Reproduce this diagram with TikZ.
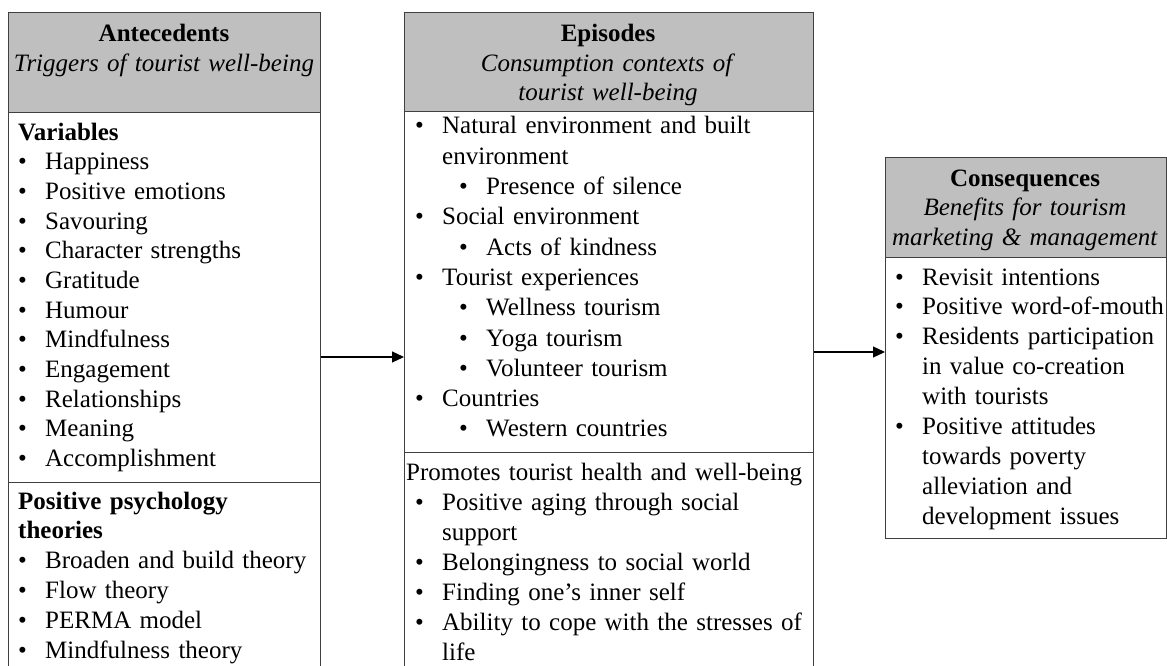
\documentclass[tikz,border=0pt]{standalone}
\usepackage{fontspec}
\setmainfont{Liberation Serif}[WordSpace=0.7]
\usetikzlibrary{arrows.meta,positioning}

\definecolor{hdrgray}{HTML}{BFBFBF}
\definecolor{framegray}{HTML}{404040}
\newcommand{\bu}{\makebox[27pt][l]{\textbullet}}
\newcommand{\cont}{\hspace*{27pt}}
\newcommand{\subbu}{\hspace*{44pt}\bu}
\newcommand{\hbu}{\hspace*{9pt}\bu}

\begin{document}
\begin{tikzpicture}[x=1pt,y=-1pt,
    frame/.style={draw=framegray,line width=1.2pt,anchor=north west,inner sep=0pt},
    head/.style={frame,fill=hdrgray},
    words/.style={anchor=base west,inner sep=0pt,align=left,text width=520pt},
    title/.style={anchor=base,inner sep=0pt,align=center,text width=440pt,
        font=\fontsize{25}{29.5}\selectfont},
    arr/.style={-{Triangle[length=12pt,width=11pt]},line width=1.2pt}]
    \useasboundingbox (0,0) rectangle (1167,666);
    \clip (0,0) rectangle (1167,666);

    % Antecedents
    \node[head,minimum width=312pt,minimum height=100pt] (anteHead) at (8,12) {};
    \node[frame,minimum width=312pt,minimum height=370pt] (anteVars) at (8,112) {};
    \node[frame,minimum width=312pt,minimum height=250pt] (anteTheo) at (8,482) {};
    \node[title] (anteTitle) at (164,42) {\textbf{Antecedents}\\\textit{Triggers of tourist well-being}};
    \node[words,font=\fontsize{25}{29.7}\selectfont] (anteVarList) at (18,140) {%
        \textbf{Variables}\\
        \bu Happiness\\
        \bu Positive emotions\\
        \bu Savouring\\
        \bu Character strengths\\
        \bu Gratitude\\
        \bu Humour\\
        \bu Mindfulness\\
        \bu Engagement\\
        \bu Relationships\\
        \bu Meaning\\
        \bu Accomplishment};
    \node[words,font=\fontsize{25}{29.8}\selectfont] (anteTheoList) at (18,509) {%
        \textbf{Positive psychology}\\
        \textbf{theories}\\
        \bu Broaden and build theory\\
        \bu Flow theory\\
        \bu PERMA model\\
        \bu Mindfulness theory};

    % Episodes
    \node[head,minimum width=409pt,minimum height=99pt] (episHead) at (404,12) {};
    \node[frame,minimum width=409pt,minimum height=341pt] (episCtx) at (404,111) {};
    \node[frame,minimum width=409pt,minimum height=250pt] (episHealth) at (404,452) {};
    \node[title] (episTitle) at (608,42) {\textbf{Episodes}\\\textit{Consumption contexts of}\\\textit{tourist well-being}};
    \node[words,font=\fontsize{25}{30.3}\selectfont] (episCtxList) at (415,134) {%
        \bu Natural environment and built\\
        \cont environment\\
        \subbu Presence of silence\\
        \bu Social environment\\
        \subbu Acts of kindness\\
        \bu Tourist experiences\\
        \subbu Wellness tourism\\
        \subbu Yoga tourism\\
        \subbu Volunteer tourism\\
        \bu Countries\\
        \subbu Western countries};
    \node[words,font=\fontsize{25}{30}\selectfont] (episHealthList) at (406,480) {%
        Promotes tourist health and well-being\\
        \hbu Positive aging through social\\
        \hspace*{36pt}support\\
        \hbu Belongingness to social world\\
        \hbu Finding one’s inner self\\
        \hbu Ability to cope with the stresses of\\
        \hspace*{36pt}life};

    % Consequences
    \node[head,minimum width=281pt,minimum height=100pt] (consHead) at (885,157) {};
    \node[frame,minimum width=281pt,minimum height=281pt] (consBody) at (885,257) {};
    \node[title] (consTitle) at (1025,186) {\textbf{Consequences}\\\textit{Benefits for tourism}\\\textit{marketing \& management}};
    \node[words,font=\fontsize{25}{29.9}\selectfont] (consList) at (895,285) {%
        \bu Revisit intentions\\
        \bu Positive word-of-mouth\\
        \bu Residents participation\\
        \cont in value co-creation\\
        \cont with tourists\\
        \bu Positive attitudes\\
        \cont towards poverty\\
        \cont alleviation and\\
        \cont development issues};

    % Links
    \coordinate (linkA) at (0,357);
    \coordinate (linkB) at (0,352);
    \draw[arr] (anteVars.east |- linkA) -- (episCtx.west |- linkA);
    \draw[arr] (episCtx.east |- linkB) -- (consBody.west |- linkB);
\end{tikzpicture}
\end{document}
